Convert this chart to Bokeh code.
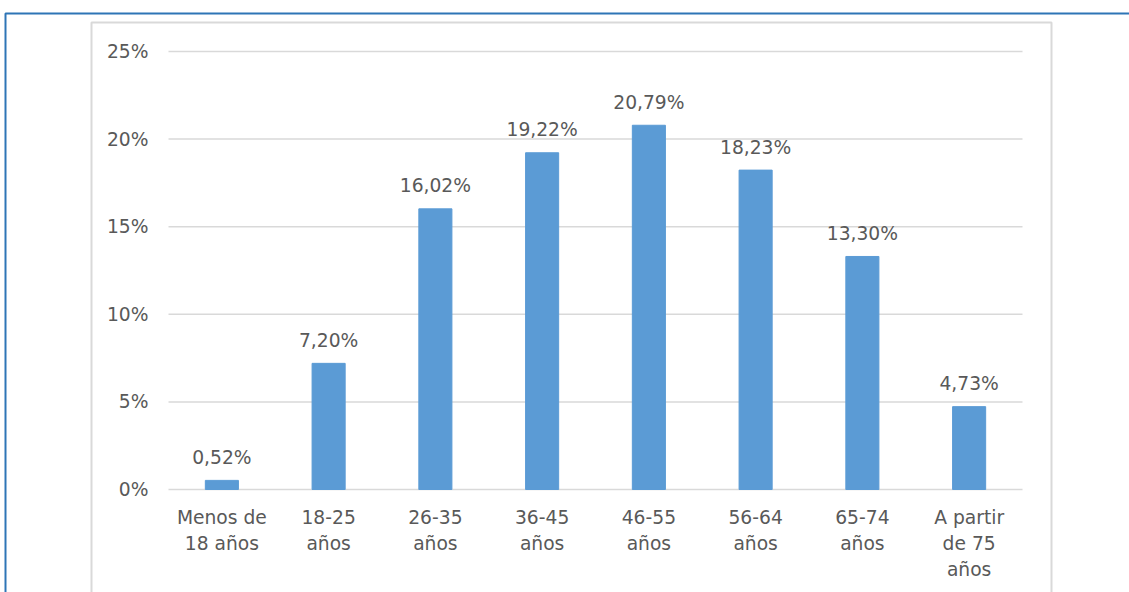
from bokeh.plotting import figure
from bokeh.models import FixedTicker, PrintfTickFormatter, BoxAnnotation, ColumnDataSource, Range1d
from bokeh.core.properties import value
from bokeh.embed import file_html
from bokeh.resources import INLINE

categories = ["Menos de\n18 años", "18-25\naños", "26-35\naños", "36-45\naños",
              "46-55\naños", "56-64\naños", "65-74\naños", "A partir\nde 75\naños"]
values = [0.52, 7.20, 16.02, 19.22, 20.79, 18.23, 13.30, 4.73]
y_ticks = [0, 5, 10, 15, 20, 25]

labels = [("%.2f%%" % v).replace(".", ",") for v in values]
xpos = list(range(len(categories)))

# layout (pixels on the canvas)
W, H = 1129, 592
PLOT_LEFT, PLOT_RIGHT = 168, 1022
Y_ZERO_PX, Y_TOP_PX = 489, 51
Y_MAX = 25

slot = (PLOT_RIGHT - PLOT_LEFT) / len(categories)
x_start = -0.5 - PLOT_LEFT / slot
x_end = x_start + W / slot
ppu = (Y_ZERO_PX - Y_TOP_PX) / Y_MAX
y_start = -(H - Y_ZERO_PX) / ppu
y_end = Y_MAX + Y_TOP_PX / ppu

FONT = "DejaVu Sans"
TXT = "#595959"
FS = "18.7px"

src = ColumnDataSource(dict(x=xpos, val=values, lab=labels))

p = figure(x_range=Range1d(x_start, x_end), y_range=Range1d(y_start, y_end),
           width=W, height=H, output_backend="svg", toolbar_location=None,
           min_border_left=0, min_border_right=0, min_border_top=0, min_border_bottom=0)
p.outline_line_color = None
p.background_fill_color = "white"
p.border_fill_color = "white"
p.grid.visible = False

# frame decorations: outer blue frame and light gray chart border
p.add_layout(BoxAnnotation(left=5, right=1400, top=13, bottom=900,
                           left_units="canvas", right_units="canvas",
                           top_units="canvas", bottom_units="canvas",
                           fill_color=None, line_color="#2E75B6", line_width=2,
                           line_alpha=1.0, level="underlay"))
p.add_layout(BoxAnnotation(left=91, right=1051, top=22, bottom=900,
                           left_units="canvas", right_units="canvas",
                           top_units="canvas", bottom_units="canvas",
                           fill_color=None, line_color="#D9D9D9", line_width=2,
                           line_alpha=1.0, level="underlay"))

# horizontal gridlines across the category area
n = len(categories)
p.segment(x0=[-0.5] * len(y_ticks), x1=[n - 0.5] * len(y_ticks), y0=y_ticks, y1=y_ticks,
          line_color="#D9D9D9", line_width=1.5)

p.vbar(x="x", top="val", width=0.31, source=src, color="#5B9BD5")
p.text(x="x", y="val", text="lab", source=src, text_align="center",
       text_baseline="alphabetic", y_offset=-23, text_font=value(FONT),
       text_font_size=FS, text_color=TXT)

p.yaxis.ticker = FixedTicker(ticks=y_ticks)
p.yaxis.formatter = PrintfTickFormatter(format="%d%%")
p.yaxis.fixed_location = -0.5
p.xaxis.ticker = FixedTicker(ticks=xpos)
p.xaxis.major_label_overrides = {i: c for i, c in zip(xpos, categories)}
p.xaxis.fixed_location = 0
for ax in (p.xaxis[0], p.yaxis[0]):
    ax.axis_line_color = None
    ax.major_tick_line_color = None
    ax.minor_tick_line_color = None
    ax.major_label_text_font = FONT
    ax.major_label_text_font_size = FS
    ax.major_label_text_color = TXT
p.yaxis.major_label_standoff = 14
p.xaxis.major_label_standoff = 11
p.xaxis.major_label_text_line_height = 1.24

open("out.html", "w").write(file_html(p, INLINE))
